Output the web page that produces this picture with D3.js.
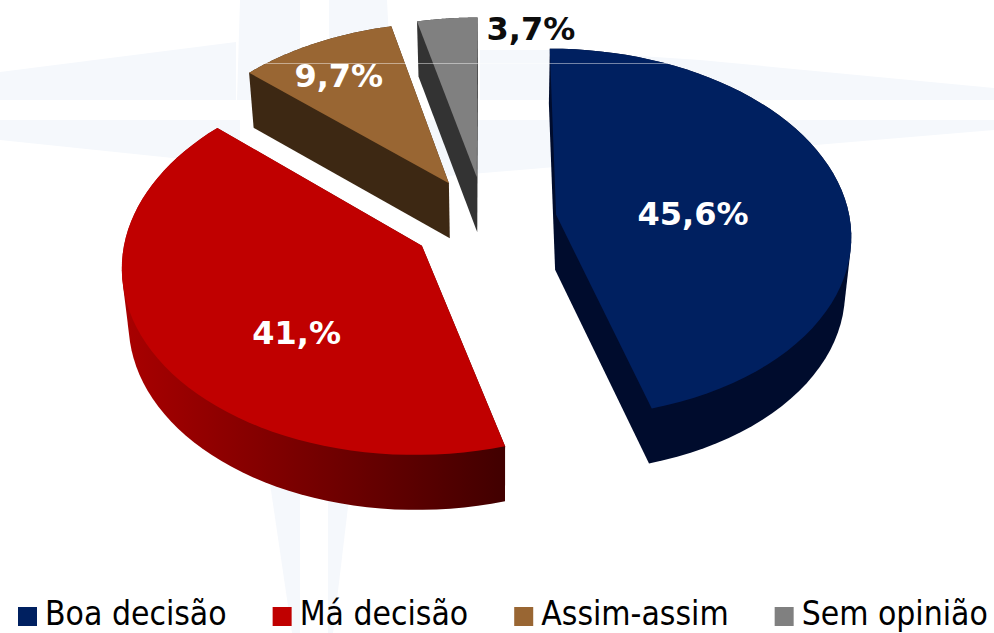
<!DOCTYPE html>
<html>
<head>
<meta charset="utf-8">
<script src="https://cdn.jsdelivr.net/npm/d3@7"></script>
<style>
html,body{margin:0;padding:0;background:#fff;}
svg{display:block;}
</style>
</head>
<body>
<svg id="chart" width="994" height="633"></svg>
<script>
const categories = ['Boa decisão', 'Má decisão', 'Assim-assim', 'Sem opinião'];
const values = [45.6, 41.0, 9.7, 3.7];
const labels = ['45,6%', '41,%', '9,7%', '3,7%'];
const topColors = ['#002060', '#c00000', '#996633', '#808080'];
const sideColors = ['#000c2d', 'url(#redSide)', '#3d2813', '#333333'];
const labelColors = ['#fff', '#fff', '#fff', '#0d0d0d'];
const explode = [0.245, 0.25, 0.245, 0.245];
// where each label sits: fraction of radius, degrees off the slice's middle
const labelRadius = [0.468, 0.589, 0.772, 0.947];
const labelTurn = [7, -16.1, -1.65, 19];

const width = 994, height = 633;
const cx = 485, cy = 221;      // middle of the pie on screen
const radiusX = 294, radiusY = 183.6;
const persp = 0.098;           // front of the pie is drawn larger than the back
const depth = 55;
const vanishX = 500, floorScale = 0.982;  // underside is pulled in towards here

const svg = d3.select('#chart');

const x = d3.scaleLinear([-1, 1], [cx - radiusX, cx + radiusX]);
const y = d3.scaleLinear([-1, 1], [cy - radiusY, cy + radiusY]);

// X, Z on the pie's plane (Z towards the viewer) to screen
const project = (X, Z) => {
	const s = 1 / (1 - persp * Z);
	return [x(X * s), y(Z * s)];
};
const under = ([px, py]) => [vanishX + (px - vanishX) * floorScale, py + depth];

// faint watermark behind the chart
const watermark = [
	[[240,0],[300,0],[300,100],[237,100]],
	[[329,0],[387,0],[392,100],[329,100]],
	[[0,72],[236,42],[236,100],[0,100]],
	[[0,120],[240,120],[240,165],[0,140]],
	[[550,50],[700,60],[994,88],[994,100],[480,100],[480,50]],
	[[400,120],[994,120],[994,130],[400,180]],
	[[268,470],[300,470],[300,633],[292,633]],
	[[328,490],[350,490],[333,633],[328,633]]
];
svg.append('g').selectAll('polygon')
	.data(watermark)
	.join('polygon')
	.attr('points', d => d.join(' '))
	.attr('fill', '#f5f8fc');

const defs = svg.append('defs');
const grad = defs.append('linearGradient')
	.attr('id', 'redSide')
	.attr('gradientUnits', 'userSpaceOnUse')
	.attr('x1', 125).attr('x2', 503).attr('y1', 0).attr('y2', 0);
grad.append('stop').attr('offset', 0).attr('stop-color', '#a80000');
grad.append('stop').attr('offset', 1).attr('stop-color', '#420000');

const pie = d3.pie().sort(null).value(d => d);
const arcs = pie(values);

const slices = arcs.map((a, i) => {
	const mid = (a.startAngle + a.endAngle) / 2;
	const ox = explode[i] * Math.sin(mid), oz = -explode[i] * Math.cos(mid);
	const rim = d3.range(0, 61).map(t => {
		const ang = a.startAngle + (a.endAngle - a.startAngle) * t / 60;
		return [ox + Math.sin(ang), oz - Math.cos(ang)];
	});
	const outline = [[ox, oz], ...rim];
	const top = outline.map(p => project(p[0], p[1]));
	const bottom = top.map(under);
	const la = mid + labelTurn[i] * Math.PI / 180;
	const label = project(ox + labelRadius[i] * Math.sin(la), oz - labelRadius[i] * Math.cos(la));
	return {i, top, hull: d3.polygonHull(top.concat(bottom)), label};
});

const line = d3.line().curve(d3.curveLinearClosed);

// back slices first
const g = svg.selectAll('g.slice')
	.data(slices.slice().reverse())
	.join('g')
	.attr('class', 'slice');
g.append('path').attr('d', d => line(d.hull)).attr('fill', d => sideColors[d.i]);
g.append('path').attr('d', d => line(d.top)).attr('fill', d => topColors[d.i]);

// thin pale line across the top of the slices
svg.append('line')
	.attr('x1', 258).attr('x2', 667).attr('y1', 63.5).attr('y2', 63.5)
	.attr('stroke', '#fff').attr('stroke-opacity', 0.45);

svg.selectAll('text.value')
	.data(slices)
	.join('text')
	.attr('class', 'value')
	.attr('x', d => d.label[0])
	.attr('y', d => d.label[1])
	.attr('dy', '0.36em')
	.attr('text-anchor', 'middle')
	.attr('font-family', 'DejaVu Sans')
	.attr('font-weight', 'bold')
	.attr('font-size', 32)
	.attr('fill', d => labelColors[d.i])
	.text(d => labels[d.i]);

// legend, laid out left to right, text squeezed sideways
let lx = 18;
const squeeze = 0.91;
categories.forEach((c, i) => {
	svg.append('rect')
		.attr('x', lx).attr('y', 607).attr('width', 19).attr('height', 19)
		.attr('fill', topColors[i]);
	const t = svg.append('text')
		.attr('transform', `translate(${lx + 27},625) scale(${squeeze},1)`)
		.attr('font-family', 'DejaVu Sans')
		.attr('font-size', 33)
		.attr('fill', '#000')
		.text(c);
	const w = t.node().getComputedTextLength() * squeeze;
	lx += 27 + w + 46;
});
</script>
</body>
</html>
